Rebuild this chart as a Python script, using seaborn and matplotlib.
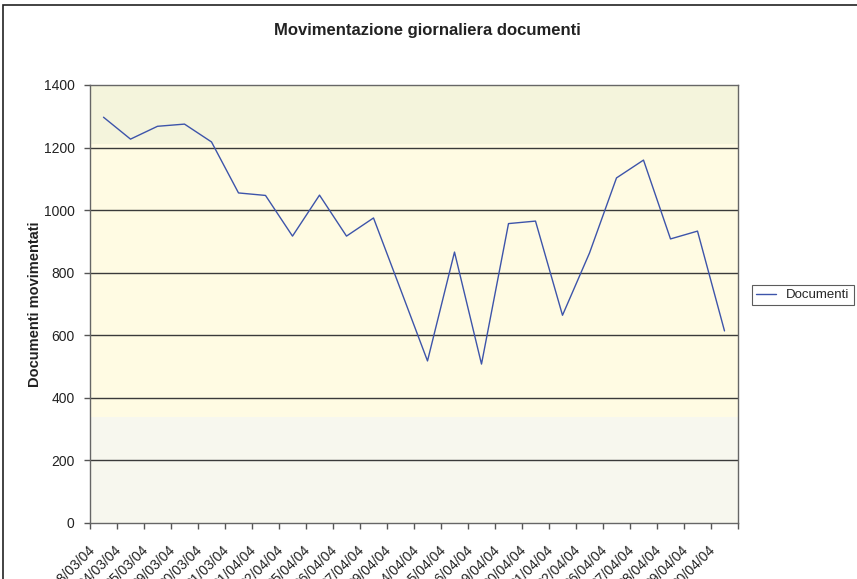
import matplotlib
matplotlib.use("Agg")
import matplotlib.pyplot as plt
import matplotlib.patches as mpatches
import seaborn as sns
import pandas as pd

# daily document counts
date_labels = ["18/03/04", "24/03/04", "25/03/04", "29/03/04", "30/03/04", "31/03/04",
               "01/04/04", "02/04/04", "05/04/04", "06/04/04", "07/04/04", "09/04/04",
               "14/04/04", "15/04/04", "16/04/04", "19/04/04", "20/04/04", "21/04/04",
               "22/04/04", "26/04/04", "27/04/04", "28/04/04", "29/04/04", "30/04/04"]
documenti = [1297, 1227, 1268, 1275, 1218, 1055, 1047, 917, 1048, 917, 975, 747,
             518, 866, 508, 957, 965, 664, 863, 1103, 1160, 908, 933, 614]
y_ticks = [0, 200, 400, 600, 800, 1000, 1200, 1400]

df = pd.DataFrame({"pos": range(len(date_labels)), "Documenti": documenti})

sns.set_style("white")
plt.rcParams['font.family'] = ['Liberation Sans', 'DejaVu Sans']

fig = plt.figure(figsize=(8.57, 5.79), dpi=100)
ax = fig.add_axes([90 / 857, 1 - 523 / 579, 648 / 857, 438 / 579])

# background bands (Excel-like gradient fill)
ax.axhspan(1210, 1400, color='#F4F4DC', zorder=0, lw=0)
ax.axhspan(340, 1210, color='#FFFBE3', zorder=0, lw=0)
ax.axhspan(0, 340, color='#F7F7EE', zorder=0, lw=0)

for yv in y_ticks[1:-1]:
    ax.axhline(yv, color='#3a3a3a', lw=1, zorder=1)

sns.lineplot(data=df, x="pos", y="Documenti", ax=ax, color='#3D54AA', lw=1,
             label="Documenti", legend=False, zorder=3)

ax.set_xlim(-0.5, len(date_labels) - 0.5)
ax.set_ylim(0, 1400)
ax.set_yticks(y_ticks)
ax.set_yticklabels([str(v) for v in y_ticks], fontsize=10, color='#222222')
# label anchors sit a bit left of each category centre (Excel style)
ax.set_xticks([i - 0.42 for i in range(len(date_labels))])
ax.set_xticklabels(date_labels, rotation=45, ha='right', va='center',
                   rotation_mode='anchor', fontsize=10, color='#222222')
ax.set_xticks([i - 0.5 for i in range(len(date_labels) + 1)], minor=True)
ax.tick_params(axis='x', which='major', length=0, pad=18)
ax.tick_params(axis='x', which='minor', length=4, width=1, color='#555555', direction='out')
ax.tick_params(axis='y', length=4, width=1, color='#555555', direction='out', pad=7)
ax.tick_params(bottom=True, left=True)
ax.tick_params(axis='x', which='minor', bottom=True)

for s in ax.spines.values():
    s.set_color('#666666')
    s.set_linewidth(1)

ax.set_xlabel("")
ax.set_ylabel("Documenti movimentati", fontsize=10.5, fontweight='bold', color='#222222', labelpad=1)

fig.text(427 / 857, 1 - 30 / 579, "Movimentazione giornaliera documenti", ha='center', va='center',
         fontsize=12, fontweight='bold', color='#222222')

leg = fig.legend(handles=ax.get_lines()[-1:], labels=["Documenti"], loc='center left',
                 bbox_to_anchor=(752 / 857, 1 - 295 / 579), fontsize=9.5, frameon=True,
                 fancybox=False, edgecolor='#333333', handlelength=1.5, borderpad=0.3,
                 handletextpad=0.8, borderaxespad=0)
leg.get_frame().set_linewidth(0.8)

# outer chart border
fig.patches.append(mpatches.Rectangle((3 / 857, -0.05), 1.0, 1 - 5 / 579 + 0.05,
                                      transform=fig.transFigure, fill=False,
                                      edgecolor='#222222', lw=1.2, clip_on=False))

fig.savefig("out.png", dpi=100)
